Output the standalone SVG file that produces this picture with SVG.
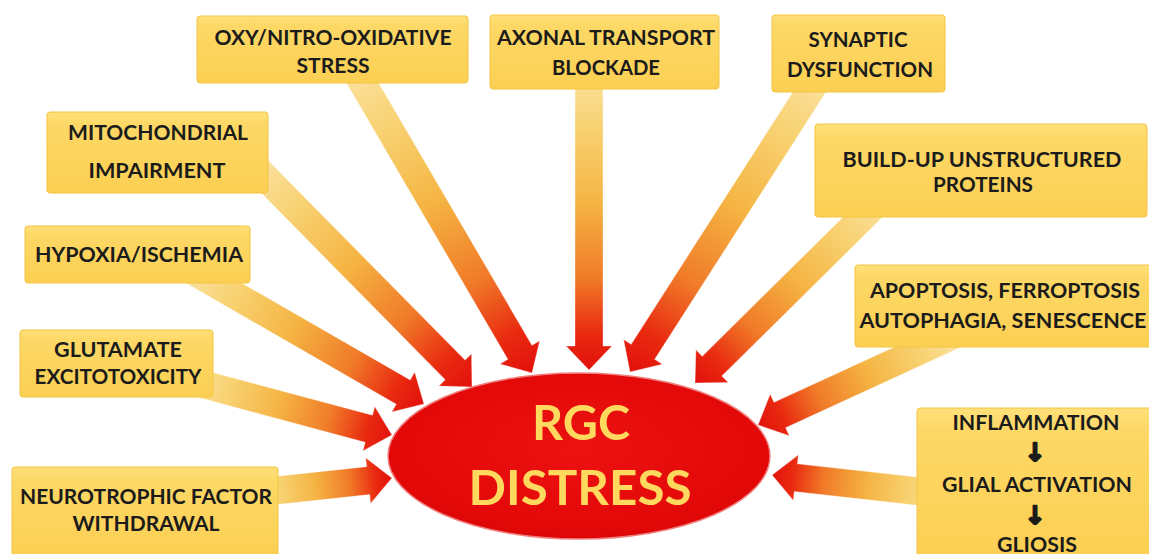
<svg xmlns="http://www.w3.org/2000/svg" width="1149" height="554" viewBox="0 0 1149 554">
<defs>
<linearGradient id="ag" x1="0" y1="0" x2="1" y2="0">
<stop offset="0" stop-color="#FBE3A4"/>
<stop offset="0.2" stop-color="#F8D272"/>
<stop offset="0.45" stop-color="#F5B443"/>
<stop offset="0.7" stop-color="#F07A28"/>
<stop offset="0.88" stop-color="#E92A10"/>
<stop offset="1" stop-color="#E2100C"/>
</linearGradient>
<linearGradient id="bg" x1="0" y1="0" x2="0" y2="1">
<stop offset="0" stop-color="#FFE07A"/>
<stop offset="0.15" stop-color="#FDD866"/>
<stop offset="1" stop-color="#FBCF52"/>
</linearGradient>
<radialGradient id="eg" cx="0.5" cy="0.45" r="0.6">
<stop offset="0" stop-color="#EC1212"/>
<stop offset="0.85" stop-color="#E20808"/>
<stop offset="1" stop-color="#D40202"/>
</radialGradient>
</defs>
<style>
.arr{fill:url(#ag);stroke:#FFFFFF;stroke-opacity:0.35;stroke-width:1}
.box{fill:url(#bg);stroke:#F3C442;stroke-width:1}
.t{font-family:Lato,"Open Sans","Liberation Sans",sans-serif;font-weight:700;font-size:21px;fill:#1B1B1B;text-anchor:middle}
.big{font-family:Lato,"Open Sans","Liberation Sans",sans-serif;font-weight:700;font-size:48px;fill:#FFD85E;text-anchor:middle}
.dn{font-family:"DejaVu Sans",sans-serif;font-weight:700;font-size:25px;fill:#1B1B1B;stroke:#1B1B1B;stroke-width:2;stroke-linejoin:round;text-anchor:middle}
</style>
<rect width="1149" height="554" fill="#FFFFFF"/>
<g id="connectors">
<path class="arr" transform="translate(532,373) rotate(59.71)" d="M-357,-14 L-24,-14 L-24,-23 L0,0 L-24,23 L-24,14 L-357,14 Z"/>
<path class="arr" transform="translate(589,370) rotate(90)" d="M-304,-14 L-24,-14 L-24,-23 L0,0 L-24,23 L-24,14 L-304,14 Z"/>
<path class="arr" transform="translate(630,372) rotate(122.65)" d="M-357,-14 L-24,-14 L-24,-23 L0,0 L-24,23 L-24,14 L-357,14 Z"/>
<path class="arr" transform="translate(695,383) rotate(135.33)" d="M-263,-14 L-24,-14 L-24,-23 L0,0 L-24,23 L-24,14 L-263,14 Z"/>
<path class="arr" transform="translate(472,387) rotate(45.41)" d="M-313,-14 L-24,-14 L-24,-23 L0,0 L-24,23 L-24,14 L-313,14 Z"/>
<path class="arr" transform="translate(424,404) rotate(29.92)" d="M-273,-14 L-24,-14 L-24,-23 L0,0 L-24,23 L-24,14 L-273,14 Z"/>
<path class="arr" transform="translate(392,435) rotate(15.05)" d="M-212,-14 L-24,-14 L-24,-23 L0,0 L-24,23 L-24,14 L-212,14 Z"/>
<path class="arr" transform="translate(392,478) rotate(-6.18)" d="M-141,-14 L-24,-14 L-24,-23 L0,0 L-24,23 L-24,14 L-141,14 Z"/>
<path class="arr" transform="translate(758,425) rotate(155.31)" d="M-221,-14 L-24,-14 L-24,-23 L0,0 L-24,23 L-24,14 L-221,14 Z"/>
<path class="arr" transform="translate(772,475) rotate(186.34)" d="M-174,-14 L-24,-14 L-24,-23 L0,0 L-24,23 L-24,14 L-174,14 Z"/>
</g>
<g id="n-oxy">
<rect class="box" x="197" y="16" width="271" height="67" rx="3"/>
<text class="t" x="333" y="45" textLength="237" lengthAdjust="spacingAndGlyphs">OXY/NITRO-OXIDATIVE</text>
<text class="t" x="333" y="73" textLength="73" lengthAdjust="spacingAndGlyphs">STRESS</text>
</g>
<g id="n-axonal">
<rect class="box" x="490" y="15" width="229" height="74" rx="3"/>
<text class="t" x="606" y="45" textLength="218" lengthAdjust="spacingAndGlyphs">AXONAL TRANSPORT</text>
<text class="t" x="606" y="75" textLength="108" lengthAdjust="spacingAndGlyphs">BLOCKADE</text>
</g>
<g id="n-synaptic">
<rect class="box" x="772" y="15" width="173" height="77" rx="3"/>
<text class="t" x="858" y="47" textLength="99" lengthAdjust="spacingAndGlyphs">SYNAPTIC</text>
<text class="t" x="860" y="77" textLength="146" lengthAdjust="spacingAndGlyphs">DYSFUNCTION</text>
</g>
<g id="n-buildup">
<rect class="box" x="815" y="124" width="332" height="93" rx="3"/>
<text class="t" x="982" y="167" textLength="279" lengthAdjust="spacingAndGlyphs">BUILD-UP UNSTRUCTURED</text>
<text class="t" x="983" y="192" textLength="100" lengthAdjust="spacingAndGlyphs">PROTEINS</text>
</g>
<g id="n-mito">
<rect class="box" x="47" y="112" width="221" height="81" rx="3"/>
<text class="t" x="158" y="140" textLength="180" lengthAdjust="spacingAndGlyphs">MITOCHONDRIAL</text>
<text class="t" x="157" y="178" textLength="137" lengthAdjust="spacingAndGlyphs">IMPAIRMENT</text>
</g>
<g id="n-hypoxia">
<rect class="box" x="25" y="226" width="225" height="57" rx="3"/>
<text class="t" x="139" y="262" textLength="208" lengthAdjust="spacingAndGlyphs">HYPOXIA/ISCHEMIA</text>
</g>
<g id="n-glutamate">
<rect class="box" x="20" y="330" width="193" height="67" rx="3"/>
<text class="t" x="118" y="357" textLength="128" lengthAdjust="spacingAndGlyphs">GLUTAMATE</text>
<text class="t" x="118" y="384" textLength="167" lengthAdjust="spacingAndGlyphs">EXCITOTOXICITY</text>
</g>
<g id="n-neuro">
<rect class="box" x="12" y="467" width="266" height="92" rx="3"/>
<text class="t" x="146" y="504" textLength="252" lengthAdjust="spacingAndGlyphs">NEUROTROPHIC FACTOR</text>
<text class="t" x="146" y="531" textLength="147" lengthAdjust="spacingAndGlyphs">WITHDRAWAL</text>
</g>
<g id="n-apoptosis">
<rect class="box" x="855" y="265" width="298" height="82" rx="3"/>
<text class="t" x="1005" y="298" textLength="270" lengthAdjust="spacingAndGlyphs">APOPTOSIS, FERROPTOSIS</text>
<text class="t" x="1003" y="328" textLength="287" lengthAdjust="spacingAndGlyphs">AUTOPHAGIA, SENESCENCE</text>
</g>
<g id="n-inflammation">
<rect class="box" x="917" y="408" width="236" height="152" rx="3"/>
<text class="t" x="1036" y="430" textLength="167" lengthAdjust="spacingAndGlyphs">INFLAMMATION</text>
<text class="dn" x="1035" y="461">↓</text>
<text class="t" x="1037" y="492" textLength="190" lengthAdjust="spacingAndGlyphs">GLIAL ACTIVATION</text>
<text class="dn" x="1035" y="524">↓</text>
<text class="t" x="1037" y="552" textLength="80" lengthAdjust="spacingAndGlyphs">GLIOSIS</text>
</g>
<g id="n-rgc">
<ellipse cx="579" cy="456" rx="191" ry="83" fill="url(#eg)" stroke="#F08080" stroke-width="1.5"/>
<text class="big" x="581" y="440" textLength="98" lengthAdjust="spacingAndGlyphs">RGC</text>
<text class="big" x="580" y="505" textLength="223" lengthAdjust="spacingAndGlyphs">DISTRESS</text>
</g>
</svg>
